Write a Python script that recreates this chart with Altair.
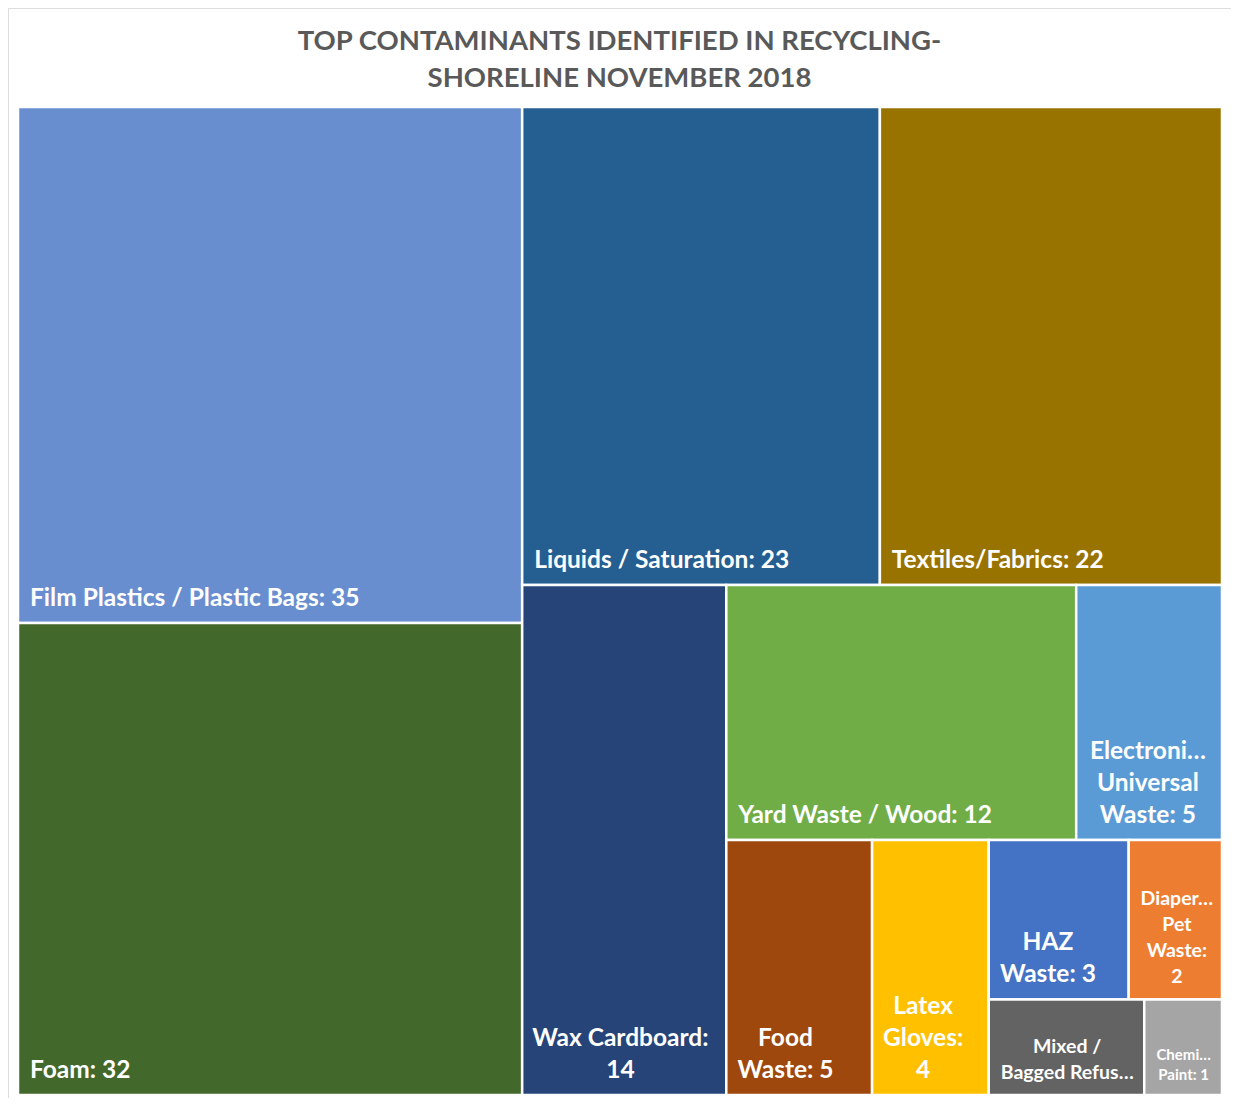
import altair as alt
import pandas as pd

# ---------------- data ----------------
categories = ["Film Plastics / Plastic Bags", "Foam", "Liquids / Saturation", "Textiles/Fabrics",
              "Wax Cardboard", "Yard Waste / Wood", "Electronic/ Universal Waste", "Food Waste",
              "Latex Gloves", "HAZ Waste", "Diaper/ Pet Waste", "Mixed / Bagged Refuse", "Chemical/ Paint"]
values = [35, 32, 23, 22, 14, 12, 5, 5, 4, 3, 2, 2, 1]
labels = ["Film Plastics / Plastic Bags: 35", "Foam: 32", "Liquids / Saturation: 23", "Textiles/Fabrics: 22",
          "Wax Cardboard:\n14", "Yard Waste / Wood: 12", "Electroni…\nUniversal\nWaste: 5", "Food\nWaste: 5",
          "Latex\nGloves:\n4", "HAZ\nWaste: 3", "Diaper…\nPet\nWaste:\n2", "Mixed /\nBagged Refus…",
          "Chemi…\nPaint: 1"]

# ---------------- style ----------------
colors = ["#698ED0", "#43682B", "#255E91", "#997300", "#264478", "#70AD47", "#5B9BD5",
          "#9E480E", "#FFC000", "#4472C4", "#ED7D31", "#636363", "#A5A5A5"]
size_class = ["big", "big", "big", "big", "big", "big", "big", "big", "big", "big", "mid", "mid", "small"]
font_sizes = {"big": 24.5, "mid": 19.5, "small": 15}
line_heights = {"big": 32, "mid": 26, "small": 20}
FONT = "Lato"

# Excel-like slice layout tree (h = side by side, v = stacked), leaves are indices
tree = ("h", [("v", [0, 1]),
              ("v", [("h", [2, 3]),
                     ("h", [4, ("v", [("h", [5, 6]),
                                      ("h", [7, 8, ("v", [("h", [9, 10]), ("h", [11, 12])])])])])])])

W, H = 1204.0, 988.0  # plot units (== pixels)


def total(node):
    if isinstance(node, int):
        return values[node]
    return sum(total(c) for c in node[1])


rects = {}


def layout(node, x0, y0, x1, y1):
    if isinstance(node, int):
        rects[node] = (x0, y0, x1, y1)
        return
    d, kids = node
    t = total(node)
    pos = x0 if d == "h" else y0
    for k in kids:
        frac = total(k) / t
        if d == "h":
            step = (x1 - x0) * frac
            layout(k, pos, y0, pos + step, y1)
        else:
            step = (y1 - y0) * frac
            layout(k, x0, pos, x1, pos + step)
        pos += step


layout(tree, 0, 0, W, H)

# rough Lato Bold advance widths (em)
cw = {" ": 0.2, ":": 0.26, "/": 0.38, "…": 0.85, ".": 0.26, "i": 0.25, "l": 0.25, "t": 0.36,
      "r": 0.38, "f": 0.33, "m": 0.83, "w": 0.76, "s": 0.43, "a": 0.51, "W": 0.98, "M": 0.87}


def text_w(s, fs):
    w = 0
    for ch in s:
        if ch in cw:
            w += cw[ch]
        elif ch.isdigit():
            w += 0.58
        elif ch.isupper():
            w += 0.66
        else:
            w += 0.53
    return w * fs


PAD = 12
rows = []
for i, c in enumerate(categories):
    x0, y0, x1, y1 = rects[i]
    lines = labels[i].split("\n")
    sc = size_class[i]
    fs = font_sizes[sc]
    multi = len(lines) > 1
    bw = max(text_w(s, fs) for s in lines)
    lx = x0 + PAD + (bw / 2 if multi else 0)
    ly = y1 - (len(lines) - 1) * line_heights[sc]
    rows.append(dict(category=c, value=values[i], x0=x0, y0=y0, x1=x1, y1=y1, color=colors[i],
                     label=labels[i], lx=lx, ly=ly, cls=sc + ("_c" if multi else "_l")))

df = pd.DataFrame(rows)

xs = alt.Scale(domain=[0, W], range=[10, 1214], nice=False, zero=False)
ys = alt.Scale(domain=[0, H], range=[99, 1087], nice=False, zero=False)

base = alt.Chart(df)
tiles = base.mark_rect(stroke="white", strokeWidth=2.5).encode(
    x=alt.X("x0:Q", scale=xs, axis=None),
    x2="x1:Q",
    y=alt.Y("y0:Q", scale=ys, axis=None),
    y2="y1:Q",
    color=alt.Color("color:N", scale=None),
    tooltip=["category:N", "value:Q"],
)

layers = [tiles]
for cls in ["big_l", "big_c", "mid_c", "small_c"]:
    sc = cls.split("_")[0]
    layers.append(
        base.transform_filter(alt.datum.cls == cls).mark_text(
            font=FONT, fontWeight="bold", fontSize=font_sizes[sc], lineHeight=line_heights[sc],
            color="white", align="left" if cls.endswith("_l") else "center", baseline="bottom",
            lineBreak="\n", dy=-12,
        ).encode(
            x=alt.X("lx:Q", scale=xs, axis=None),
            y=alt.Y("ly:Q", scale=ys, axis=None),
            text="label:N",
        )
    )

chart = alt.layer(*layers).properties(
    width=1223, height=1090, padding=0,
    title=alt.TitleParams(
        text=["TOP CONTAMINANTS IDENTIFIED IN RECYCLING-", "SHORELINE NOVEMBER 2018"],
        anchor="middle", offset=-84, font=FONT, fontSize=27.5, fontWeight="bold",
        color="#595959", lineHeight=37,
    ),
).configure_view(stroke="#D9D9D9", strokeWidth=1.5).configure(background="white")

chart.save("out.html", embed_options={"renderer": "svg", "actions": False})
